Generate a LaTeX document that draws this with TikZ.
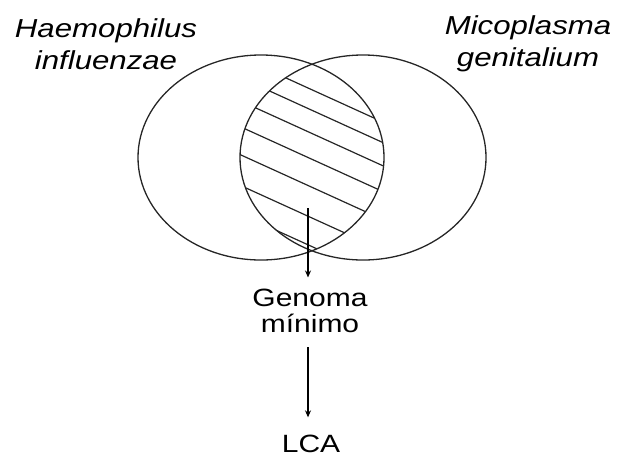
\documentclass[tikz,border=0pt]{standalone}
\usepackage{fontspec}
\setmainfont{Liberation Sans}[FakeStretch=1.2]
\usetikzlibrary{arrows.meta}
\begin{document}
\begin{tikzpicture}[x=1pt,y=-1pt,
  outline/.style={draw=black!85, line width=1.3pt},
  hatch/.style={draw=black!85, line width=1.2pt},
  arr/.style={draw=black, line width=1.2pt, -{Stealth[length=7pt,width=6pt]}},
  lbl/.style={inner sep=0pt, font=\fontsize{26}{32}\selectfont\itshape, align=center},
  txt/.style={inner sep=0pt, font=\fontsize{25}{26}\selectfont, align=center}]
\useasboundingbox (0,0) rectangle (617,456);
% Venn ellipses
\draw[outline] (261,157.5) ellipse [x radius=123, y radius=102.5];
\draw[outline] (363,157.5) ellipse [x radius=123, y radius=102.5];
% hatching of the common part
\begin{scope}
  \clip (261,157.5) ellipse [x radius=123, y radius=102.5];
  \clip (363,157.5) ellipse [x radius=123, y radius=102.5];
  \foreach \c in {89.8,110.3,133.5,159.3,187.3,218,246.6}
    \draw[hatch] (230,{\c-0.455*82}) -- (395,{\c+0.455*83});
\end{scope}
% labels
\node[lbl] (hi) at (106,44) {Haemophilus\\influenzae};
\node[lbl] (mg) at (528,44) {Micoplasma\\genitalium};
\node[txt] (gm) at (310,311) {Genoma\\mínimo};
\node[txt, anchor=base] (lca) at (311,452) {LCA};
% arrows
\coordinate (s) at (308,208);
\draw[arr, shorten >=11.5pt] (s) -- (s |- gm.north);
\draw[arr, shorten <=14pt, shorten >=17pt] (gm.south -| s) -- (s |- lca.north);
\end{tikzpicture}
\end{document}
